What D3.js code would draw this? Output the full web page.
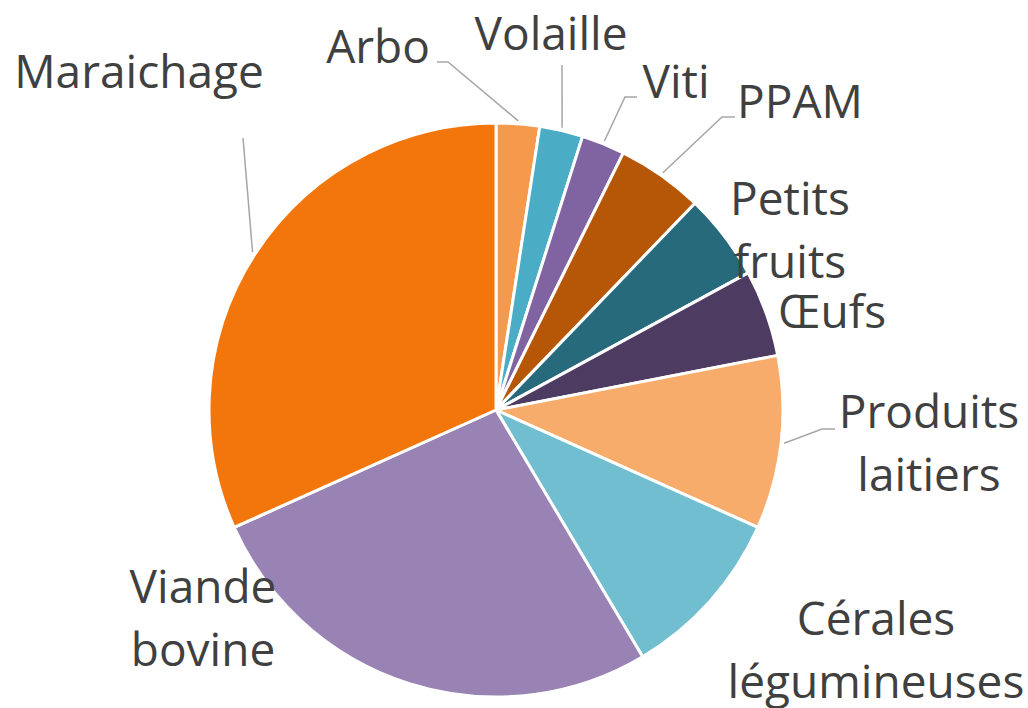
<!DOCTYPE html>
<html lang="fr">
<head>
<meta charset="UTF-8">
<script src="https://d3js.org/d3.v7.min.js"></script>
<style>
  body { margin: 0; background: #fff; }
  svg text { font-family: "Open Sans", sans-serif; font-size: 46px; fill: #404040; }
</style>
</head>
<body>
<svg id="svg" width="1028" height="708"></svg>
<script>
// data (clockwise from 12 o'clock)
var categories = ["Arbo", "Volaille", "Viti", "PPAM", "Petits fruits", "Œufs",
  "Produits laitiers", "Cérales légumineuses", "Viande bovine", "Maraichage"];
var values = [1, 1, 1, 2, 2, 2, 4, 4, 11, 13];
var colors = ["#F5994D", "#4BACC6", "#8064A2", "#B65708", "#276A7C", "#4D3B62",
  "#F8AC6B", "#71BED1", "#9983B5", "#F2760C"];

// label layout: center x, first baseline, leader elbow points (after the arc point)
var labelLayout = {
  "Arbo": { x: 378, y: 63, leader: [[448, 62], [437, 62]] },
  "Volaille": { x: 551, y: 50, leader: [[562, 65]] },
  "Viti": { x: 676, y: 98, leader: [[625, 97], [637, 97]] },
  "PPAM": { x: 800, y: 118, leader: [[722, 117], [735, 117]] },
  "Petits fruits": { x: 790, y: 215 },
  "Œufs": { x: 832, y: 328 },
  "Produits laitiers": { x: 929, y: 428, leader: [[822, 429], [835, 429]] },
  "Cérales légumineuses": { x: 876, y: 635 },
  "Viande bovine": { x: 203, y: 603 },
  "Maraichage": { x: 139, y: 88, leader: [[243, 138]] }
};

var cx = 496, cy = 410, radius = 287, lineHeight = 63;

var svg = d3.select("#svg");
var g = svg.append("g").attr("transform", "translate(" + cx + "," + cy + ")");

var pie = d3.pie().sort(null).value(function (d) { return d; });
var arcs = pie(values);

var arc = d3.arc().innerRadius(0).outerRadius(radius);
var leaderArc = d3.arc().innerRadius(radius + 3).outerRadius(radius + 3);

g.selectAll("path.slice")
  .data(arcs)
  .enter()
  .append("path")
  .attr("class", "slice")
  .attr("d", arc)
  .attr("fill", function (d, i) { return colors[i]; })
  .attr("stroke", "#fff")
  .attr("stroke-width", 3)
  .attr("stroke-linejoin", "round");

// leader lines
arcs.forEach(function (d, i) {
  var lay = labelLayout[categories[i]];
  if (!lay.leader) return;
  var c = leaderArc.centroid(d);
  var pts = [[cx + c[0], cy + c[1]]].concat(lay.leader);
  svg.append("path")
    .attr("d", d3.line()(pts))
    .attr("fill", "none")
    .attr("stroke", "#A6A6A6")
    .attr("stroke-width", 1.5);
});

// labels
categories.forEach(function (name) {
  var lay = labelLayout[name];
  var lines = name === "Maraichage" ? [name] : name.split(" ");
  var t = svg.append("text")
    .attr("x", lay.x)
    .attr("y", lay.y)
    .attr("text-anchor", "middle");
  lines.forEach(function (w, k) {
    t.append("tspan")
      .attr("x", lay.x)
      .attr("y", lay.y + k * lineHeight)
      .text(w);
  });
});
</script>
</body>
</html>
